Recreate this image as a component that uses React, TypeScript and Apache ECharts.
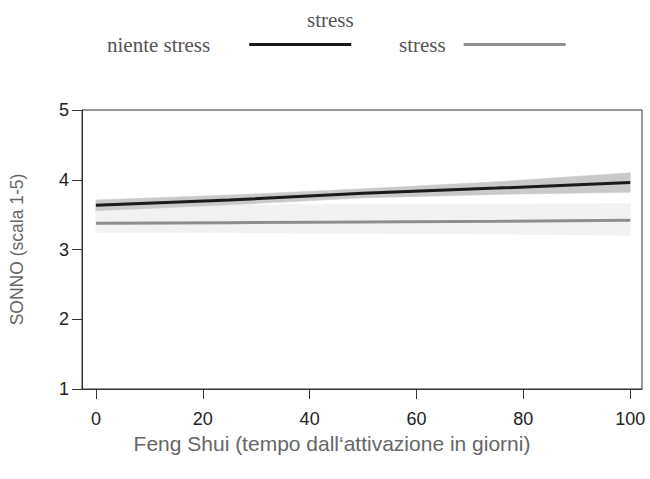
import React, { useEffect, useRef } from "react";
import * as echarts from "echarts";

const xValues = [0, 25, 50, 75, 100];
const nienteStress = [3.635, 3.71, 3.805, 3.88, 3.96];
const nienteLower = [3.555, 3.64, 3.74, 3.79, 3.82];
const nienteUpper = [3.71, 3.78, 3.87, 3.97, 4.1];
const stress = [3.375, 3.385, 3.395, 3.405, 3.42];
const stressLower = [3.24, 3.24, 3.23, 3.22, 3.2];
const stressUpper = [3.64, 3.64, 3.65, 3.65, 3.66];
const xTicks = [0, 20, 40, 60, 80, 100];

export default function App() {
  const ref = useRef<HTMLDivElement>(null);
  useEffect(() => {
    document.body.style.margin = "0";
    if (!ref.current) return;
    const chart = echarts.init(ref.current, null, { renderer: "svg" });
    const pts = (arr: number[]) => xValues.map((x, i) => [x, arr[i]]);
    const segs = (lo: number[], hi: number[]) =>
      xValues.slice(0, -1).map((x, i) => [x, lo[i], hi[i], xValues[i + 1], lo[i + 1], hi[i + 1]]);
    const bandItem = (color: string) => (params: any, api: any) => {
      const a = api.coord([api.value(0), api.value(1)]);
      const b = api.coord([api.value(0), api.value(2)]);
      const c = api.coord([api.value(3), api.value(5)]);
      const d = api.coord([api.value(3), api.value(4)]);
      return {
        type: "polygon",
        shape: { points: [a, b, c, d] },
        style: { fill: color, stroke: color, lineWidth: 0.5 },
        silent: true,
      };
    };
    const serif = "'Liberation Serif', 'DejaVu Serif', serif";
    const sans = "'Liberation Sans', Arial, sans-serif";
    const legendBase = {
      top: 29,
      align: "right",
      icon: "rect",
      itemWidth: 102,
      itemHeight: 3,
    };
    chart.setOption({
      animation: false,
      backgroundColor: "#ffffff",
      title: {
        text: "stress",
        left: 302,
        top: 4,
        textStyle: { fontFamily: serif, fontWeight: "normal", fontSize: 21, color: "#555555" },
      },
      legend: [
        {
          ...legendBase,
          data: ["niente stress"],
          left: 102,
          textStyle: { fontFamily: serif, fontSize: 21, color: "#555555", padding: [0, 34, 0, 0] },
        },
        {
          ...legendBase,
          data: ["stress"],
          left: 394,
          textStyle: { fontFamily: serif, fontSize: 21, color: "#555555", padding: [0, 13, 0, 0] },
        },
      ],
      grid: { left: 82, right: 8, top: 110, bottom: 90, show: true, borderColor: "#333333", borderWidth: 1 },
      xAxis: {
        type: "value",
        min: -2.6,
        max: 102.2,
        name: "Feng Shui (tempo dall‘attivazione in giorni)",
        nameLocation: "middle",
        nameGap: 32,
        nameTextStyle: { fontFamily: sans, fontSize: 21, color: "#666666", padding: [0, 60, 0, 0] },
        axisLine: { show: true, onZero: false, lineStyle: { color: "#333333" } },
        axisTick: { show: true, length: 10, lineStyle: { color: "#333333" }, customValues: xTicks },
        axisLabel: { fontFamily: sans, fontSize: 18, color: "#222222", margin: 21, customValues: xTicks },
        splitLine: { show: false },
      },
      yAxis: {
        type: "value",
        min: 1,
        max: 5,
        interval: 1,
        name: "SONNO (scala 1-5)",
        nameLocation: "middle",
        nameGap: 56,
        nameRotate: 90,
        nameTextStyle: { fontFamily: sans, fontSize: 17.5, color: "#666666" },
        axisLine: { show: true, onZero: false, lineStyle: { color: "#333333" } },
        axisTick: { show: true, length: 10, lineStyle: { color: "#333333" } },
        axisLabel: { fontFamily: sans, fontSize: 18, color: "#222222", margin: 13 },
        splitLine: { show: false },
      },
      series: [
        {
          name: "stressBand",
          type: "custom",
          renderItem: bandItem("#f2f2f2"),
          data: segs(stressLower, stressUpper),
          encode: { x: [0, 3], y: [1, 2, 4, 5] },
          silent: true,
          z: 1,
        },
        {
          name: "nienteBand",
          type: "custom",
          renderItem: bandItem("#c9c9c9"),
          data: segs(nienteLower, nienteUpper),
          encode: { x: [0, 3], y: [1, 2, 4, 5] },
          silent: true,
          z: 1,
        },
        {
          name: "stress",
          type: "line",
          data: pts(stress),
          symbol: "none",
          color: "#8e8e8e",
          lineStyle: { color: "#8e8e8e", width: 3 },
          itemStyle: { color: "#8e8e8e" },
          z: 3,
        },
        {
          name: "niente stress",
          type: "line",
          data: pts(nienteStress),
          symbol: "none",
          color: "#1a1a1a",
          lineStyle: { color: "#1a1a1a", width: 3 },
          itemStyle: { color: "#1a1a1a" },
          z: 4,
        },
      ],
    });
    return () => chart.dispose();
  }, []);
  return <div ref={ref} style={{ width: 650, height: 479 }} />;
}
